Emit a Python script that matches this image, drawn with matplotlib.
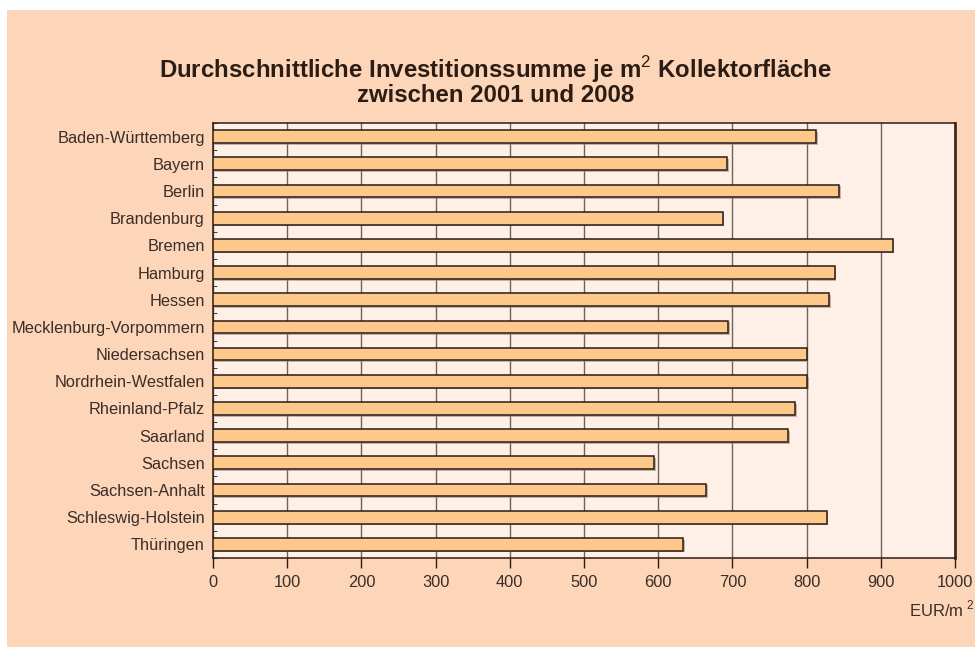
import matplotlib
matplotlib.use("Agg")
import matplotlib.pyplot as plt
import matplotlib.patheffects as pe
from matplotlib.patches import Rectangle
import numpy as np

plt.rcParams['font.family'] = ['Liberation Sans', 'DejaVu Sans']
plt.rcParams['mathtext.fontset'] = 'custom'
plt.rcParams['mathtext.rm'] = 'Liberation Sans'
plt.rcParams['mathtext.bf'] = 'Liberation Sans:bold'

laender = ["Baden-Württemberg", "Bayern", "Berlin", "Brandenburg", "Bremen",
           "Hamburg", "Hessen", "Mecklenburg-Vorpommern", "Niedersachsen",
           "Nordrhein-Westfalen", "Rheinland-Pfalz", "Saarland", "Sachsen",
           "Sachsen-Anhalt", "Schleswig-Holstein", "Thüringen"]
werte = [813, 693, 844, 687, 916, 838, 830, 694, 800, 801, 785, 775, 595, 665, 827, 634]
xticks = [0, 100, 200, 300, 400, 500, 600, 700, 800, 900, 1000]

text_col = "#2b1d14"
label_col = "#3a2e28"
peach = "#fdd5b9"
plot_bg = "#fef0e6"
bar_col = "#fec88a"
grid_col = "#6e625b"

fig = plt.figure(figsize=(9.75, 6.47), dpi=100)
fig.patch.set_facecolor("white")
# peach panel behind everything
fig.patches.append(Rectangle((7 / 975, 0), 1 - 7 / 975, 1 - 10 / 647,
                             transform=fig.transFigure, facecolor=peach,
                             edgecolor="none", zorder=-10))

ax = fig.add_axes([213 / 975, 1 - 558 / 647, 742 / 975, 435 / 647])
ax.set_facecolor(plot_bg)

y = np.arange(len(laender))
bars = ax.barh(y, werte, height=0.47, color=bar_col, edgecolor="#2a1c14",
               linewidth=1.1, zorder=3)
for b in bars:
    b.set_path_effects([pe.SimplePatchShadow(offset=(1.2, -1.2), shadow_rgbFace="#9a8a80", alpha=0.6),
                        pe.Normal()])

ax.set_xlim(0, 1000)
ax.set_ylim(len(laender) - 0.5, -0.5)
ax.set_xticks(xticks)
ax.set_xticklabels([str(t) for t in xticks], fontsize=11.8, color=label_col)
ax.set_yticks(y)
ax.set_yticklabels(laender, fontsize=11.8, color=label_col)
ax.tick_params(axis="x", direction="out", length=7, width=1, color=text_col, pad=5)
ax.tick_params(axis="y", length=0, pad=6)
ax.set_yticks(np.arange(len(laender) + 1) - 0.5, minor=True)
ax.tick_params(axis="y", which="minor", direction="in", length=3, color=text_col)

ax.xaxis.grid(True, color=grid_col, linewidth=1.0, zorder=1)
ax.set_axisbelow(True)
for side in ["left", "bottom", "top"]:
    ax.spines[side].set_color("#2a1c14")
    ax.spines[side].set_linewidth(1.1)
ax.spines["right"].set_color("#3a2c24")
ax.spines["right"].set_linewidth(2)

fig.text(0.508, 1 - 70 / 647, "Durchschnittliche Investitionssumme je m$^\\mathrm{2}$ Kollektorfläche",
         ha="center", va="center", fontsize=17.3, fontweight="bold", color=text_col)
fig.text(0.508, 1 - 95 / 647, "zwischen 2001 und 2008",
         ha="center", va="center", fontsize=17.3, fontweight="bold", color=text_col)

fig.text(0.999, 1 - 609 / 647, "EUR/m$^\\mathrm{\\ 2}$", ha="right", va="center",
         fontsize=12, color=label_col)

fig.savefig("out.png", dpi=100)
